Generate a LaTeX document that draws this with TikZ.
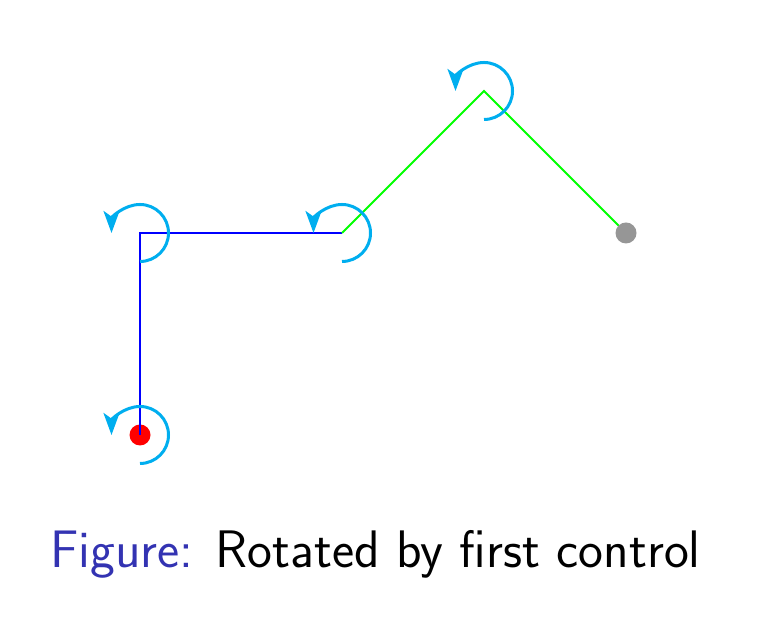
\documentclass[tikz,border=0pt]{standalone}
\usetikzlibrary{arrows.meta,calc}
\definecolor{figblue}{rgb}{0.2,0.2,0.7}
\definecolor{rotcyan}{RGB}{0,174,239}
\definecolor{dotgray}{RGB}{150,150,150}
\tikzset{
  rotarc/.style={rotcyan, line width=1.5pt, -{Stealth[length=11pt,width=8pt,inset=2.8pt]}},
  seg/.style={line width=1pt},
}
\begin{document}
\begin{tikzpicture}[x=0.5pt,y=0.5pt]
\useasboundingbox (0,0) rectangle (763,640);
\coordinate (p0) at (140,205);
\coordinate (p1) at (140,407);
\coordinate (p2) at (342,407);
\coordinate (p3) at (484,549);
\coordinate (p4) at (626,407);
\fill[red] (p0) circle[radius=10.5];
\draw[seg, blue] (p0) -- (p1) -- (p2);
\draw[seg, green] (p2) -- (p3) -- (p4);
\fill[dotgray] (p4) circle[radius=10.5];
\foreach \p in {p0,p1,p2,p3}{
  \draw[rotarc] ($(\p)+(0,-28.5)$) arc[start angle=-90, end angle=180, radius=28.5];
}
\node[anchor=base west, inner sep=0pt, font=\sffamily\fontsize{26.4}{31}\selectfont] (cap) at (50,72) {\textcolor{figblue}{Figure:} Rotated by first control};
\end{tikzpicture}
\end{document}
